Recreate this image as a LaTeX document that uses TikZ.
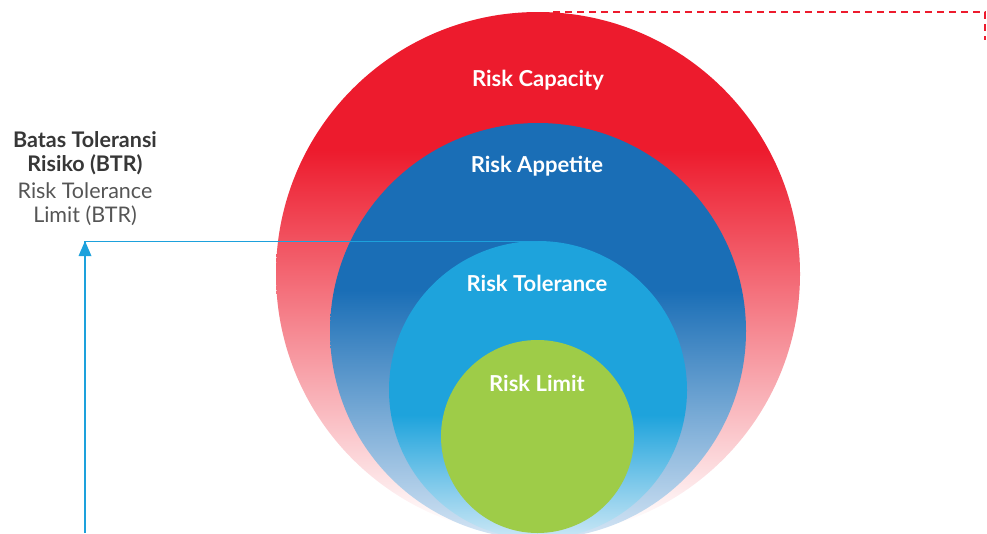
\documentclass[tikz,border=0pt]{standalone}
\usepackage{fontspec}
\setmainfont{Lato}
\usetikzlibrary{arrows.meta}
\definecolor{capred}{RGB}{237,27,45}
\definecolor{appblue}{RGB}{26,110,182}
\definecolor{appmid}{RGB}{115,148,196}
\definecolor{append}{RGB}{214,230,245}
\definecolor{tolblue}{RGB}{30,163,220}
\definecolor{tolend}{RGB}{205,232,246}
\definecolor{limgreen}{RGB}{158,204,72}
\definecolor{linkcyan}{RGB}{29,161,220}
\definecolor{darktext}{RGB}{55,55,55}
\definecolor{greytext}{RGB}{85,85,85}
\tikzset{
  circlabel/.style={text=white,font=\bfseries\fontsize{22}{26}\selectfont,inner sep=0pt},
  sidebold/.style={text=darktext,font=\bfseries\fontsize{21.5}{26}\selectfont,inner sep=0pt},
  sidereg/.style={text=greytext,font=\fontsize{21.5}{26}\selectfont,inner sep=0pt},
}
\begin{document}
\begin{tikzpicture}[x=1pt,y=-1pt]
\useasboundingbox (0,0) rectangle (987,533);
% centres of the circles
\coordinate (capc) at (538,274);
\coordinate (appc) at (538,331);
\coordinate (tolc) at (538,390);
\coordinate (limc) at (537.5,436.5);
\coordinate (toltop) at (538,241);
% Risk Capacity
\begin{scope}
\clip (capc) circle[radius=262pt];
\fill[capred] (270,0) rectangle (810,150);
\shade[top color=capred,bottom color=white] (270,150) rectangle (810,525);
\fill[white] (270,525) rectangle (810,540);
\end{scope}
% Risk Appetite
\begin{scope}
\clip (appc) circle[radius=208pt];
\fill[appblue] (320,100) rectangle (760,290);
\shade[top color=appblue,middle color=appmid,bottom color=append] (320,290) rectangle (760,540);
\end{scope}
% Risk Tolerance
\begin{scope}
\clip (tolc) circle[radius=149pt];
\fill[tolblue] (380,230) rectangle (700,415);
\shade[top color=tolblue,bottom color=tolend] (380,415) rectangle (700,540);
\end{scope}
% Risk Limit
\fill[limgreen] (limc) circle[radius=96.5pt];
% labels
\node[circlabel] (capl) at (538,80) {Risk Capacity};
\node[circlabel] (appl) at (537,166) {Risk Appetite};
\node[circlabel] (toll) at (537,283) {Risk Tolerance};
\node[circlabel] (liml) at (537,383) {Risk Limit};
% side text
\node[sidebold] (btr1) at (85,140) {Batas Toleransi};
\node[sidebold] (btr2) at (85,165) {Risiko (BTR)};
\node[sidereg] (btr3) at (85,191) {Risk Tolerance};
\node[sidereg] (btr4) at (85,216) {Limit (BTR)};
% connector
\coordinate (arrbot) at (85,533);
\coordinate (corner) at (85,241);
\draw[linkcyan,line width=1.2pt] (arrbot) -- (corner);
\fill[linkcyan] (corner) -- ++(-6.5,15) -- ++(13,0) -- cycle;
\draw[linkcyan,line width=1pt] (corner) -- (toltop);
% dashed red line
\coordinate (dstart) at (553,12);
\coordinate (dcorner) at (985,12);
\coordinate (dend) at (985,40);
\draw[capred,line width=1.4pt,dash pattern=on 7pt off 5pt] (dstart) -- (dcorner) -- (dend);
\end{tikzpicture}
\end{document}
